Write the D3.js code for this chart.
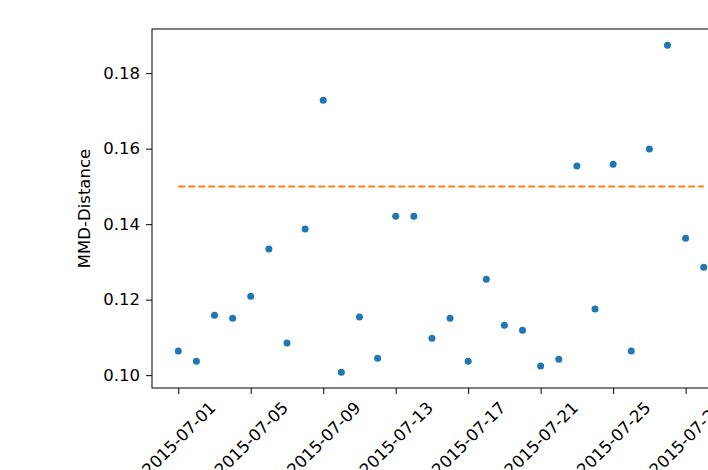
<!DOCTYPE html>
<meta charset="utf-8">
<head>
<style>
  body { margin: 0; background: #fff; }
  text { font-family: "DejaVu Sans", sans-serif; fill: #000; }
</style>
</head>
<title>MMD</title>
<script src="https://d3js.org/d3.v7.min.js"></script>
<div id="chart"></div>
<script>
// dates and MMD distance per day
var dates = ["2015-07-01","2015-07-02","2015-07-03","2015-07-04","2015-07-05","2015-07-06",
  "2015-07-07","2015-07-08","2015-07-09","2015-07-10","2015-07-11","2015-07-12","2015-07-13",
  "2015-07-14","2015-07-15","2015-07-16","2015-07-17","2015-07-18","2015-07-19","2015-07-20",
  "2015-07-21","2015-07-22","2015-07-23","2015-07-24","2015-07-25","2015-07-26","2015-07-27",
  "2015-07-28","2015-07-29","2015-07-30"];
var mmd = [0.1064,0.1037,0.1159,0.1151,0.1209,0.1334,0.1085,0.1387,0.1728,0.1008,0.1154,0.1045,
  0.1421,0.1421,0.1098,0.1151,0.1037,0.1254,0.1132,0.1119,0.1024,0.1042,0.1554,0.1175,0.1559,
  0.1064,0.1599,0.1874,0.1363,0.1286];
var threshold = 0.15;
var yTicks = [0.10,0.12,0.14,0.16,0.18];
var xTicks = ["2015-07-01","2015-07-05","2015-07-09","2015-07-13","2015-07-17","2015-07-21","2015-07-25","2015-07-29"];

var parse = d3.utcParse("%Y-%m-%d");
var data = dates.map(function(d, i) { return {date: parse(d), value: mmd[i]}; });

var margin = {top: 29, left: 152},
    width = 578, height = 359,
    fontSize = 16.5;

var svg = d3.select("#chart").append("svg")
    .attr("width", 708).attr("height", 470);
var g = svg.append("g").attr("transform", "translate(" + margin.left + "," + margin.top + ")");

var day = 24 * 3600 * 1000;
var x = d3.scaleUtc()
  .domain([new Date(parse(dates[0]).getTime() - 1.45 * day), new Date(parse(dates[dates.length-1]).getTime() + 1.45 * day)])
  .range([0, width]);
var y = d3.scaleLinear()
  .domain([0.0966, 0.1917])
  .range([height, 0]);

// threshold line
g.append("line")
  .attr("x1", x(data[0].date)).attr("x2", x(data[data.length-1].date))
  .attr("y1", y(threshold)).attr("y2", y(threshold))
  .style("stroke", "#ff7f0e").style("stroke-width", 2)
  .style("stroke-dasharray", "7,3");

// points
g.selectAll("circle")
  .data(data)
  .enter()
  .append("circle")
  .attr("cx", function(d) { return x(d.date); })
  .attr("cy", function(d) { return y(d.value); })
  .attr("r", 3.5)
  .style("fill", "#1f77b4");

// axes
var yAxis = g.append("g")
  .call(d3.axisLeft(y).tickValues(yTicks).tickFormat(d3.format(".2f")).tickSize(6).tickPadding(6));
var xAxis = g.append("g")
  .attr("transform", "translate(0," + height + ")")
  .call(d3.axisBottom(x).tickValues(xTicks.map(parse)).tickFormat(d3.utcFormat("%Y-%m-%d")).tickSize(6).tickPadding(4));

[yAxis, xAxis].forEach(function(a) {
  a.select(".domain").remove();
  a.selectAll("line").style("stroke", "#000").style("stroke-width", 1);
  a.selectAll("text").style("font-size", fontSize + "px");
});

// rotated labels, centred on the tick like matplotlib's default
xAxis.selectAll("text").each(function() {
  var t = d3.select(this);
  var len = this.getComputedTextLength();
  var half = (len + fontSize) * Math.SQRT1_2 / 2;
  t.attr("y", 0).attr("dy", "0.35em")
    .style("text-anchor", "middle")
    .attr("transform", "translate(0," + (6 + 5 + half) + ") rotate(-45)");
});

// frame
g.append("rect")
  .attr("width", width).attr("height", height)
  .style("fill", "none").style("stroke", "#000").style("stroke-width", 1);

// y label
g.append("text")
  .attr("transform", "rotate(-90)")
  .attr("x", -height / 2)
  .attr("y", -62)
  .style("text-anchor", "middle")
  .style("font-size", fontSize + "px")
  .text("MMD-Distance");
</script>
